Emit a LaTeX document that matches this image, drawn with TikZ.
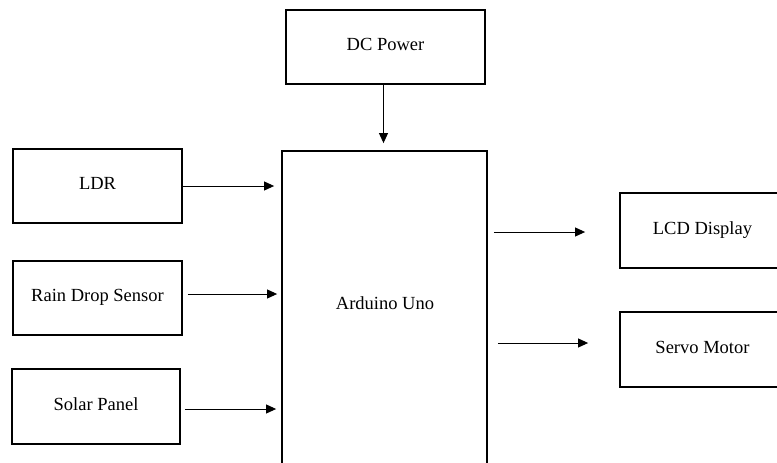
\documentclass[tikz,border=0pt]{standalone}
\usepackage{fontspec}
\setmainfont{Liberation Serif}
\usetikzlibrary{arrows.meta}
\tikzstyle{box}=[rectangle,draw,line width=1.8pt,fill=white,text height=13pt,text depth=6pt]
\tikzstyle{arr}=[line width=0.9pt,-{Triangle[length=10pt,width=9pt]}]
\begin{document}
\begin{tikzpicture}[x=1pt,y=-1pt,font=\fontsize{18.5}{22}\selectfont]
  \useasboundingbox (0,0) rectangle (777,463);
  \clip (0,0) rectangle (777,463);
  \node[box,minimum height=74pt,minimum width=199pt] (power) at (385.5,47) {DC Power};
  \node[box,minimum height=339pt,minimum width=205pt] (arduino) at (384.5,320.5) {};
  \node[] (arduinotext) at (385,303) {Arduino Uno};
  \node[box,minimum height=74pt,minimum width=169pt] (ldr) at (97.5,186) {LDR};
  \node[box,minimum height=74pt,minimum width=169pt] (rain) at (97.5,298) {Rain Drop Sensor};
  \node[box,minimum height=75pt,minimum width=168pt] (solar) at (96,406.5) {Solar Panel};
  \node[box,minimum height=75pt,minimum width=165pt] (lcd) at (702.5,230.5) {LCD Display};
  \node[box,minimum height=75pt,minimum width=165pt] (servo) at (702.5,349.5) {Servo Motor};
  \draw[arr,shorten >=7pt] ([xshift=-2pt] power.south) -- ([xshift=-2pt] power.south |- arduino.north);
  \draw[arr,shorten >=7pt] (ldr.east) -- (ldr.east -| arduino.west);
  \draw[arr,shorten <=5pt,shorten >=4pt] ([yshift=4pt] rain.east) -- ([yshift=4pt] rain.east -| arduino.west);
  \draw[arr,shorten <=4pt,shorten >=5pt] ([yshift=-2.5pt] solar.east) -- ([yshift=-2.5pt] solar.east -| arduino.west);
  \draw[arr,shorten <=6pt,shorten >=34pt] ([yshift=-1.5pt] arduino.east |- lcd.west) -- ([yshift=-1.5pt] lcd.west);
  \draw[arr,shorten <=10pt,shorten >=31pt] ([yshift=6.5pt] arduino.east |- servo.west) -- ([yshift=6.5pt] servo.west);
\end{tikzpicture}
\end{document}
